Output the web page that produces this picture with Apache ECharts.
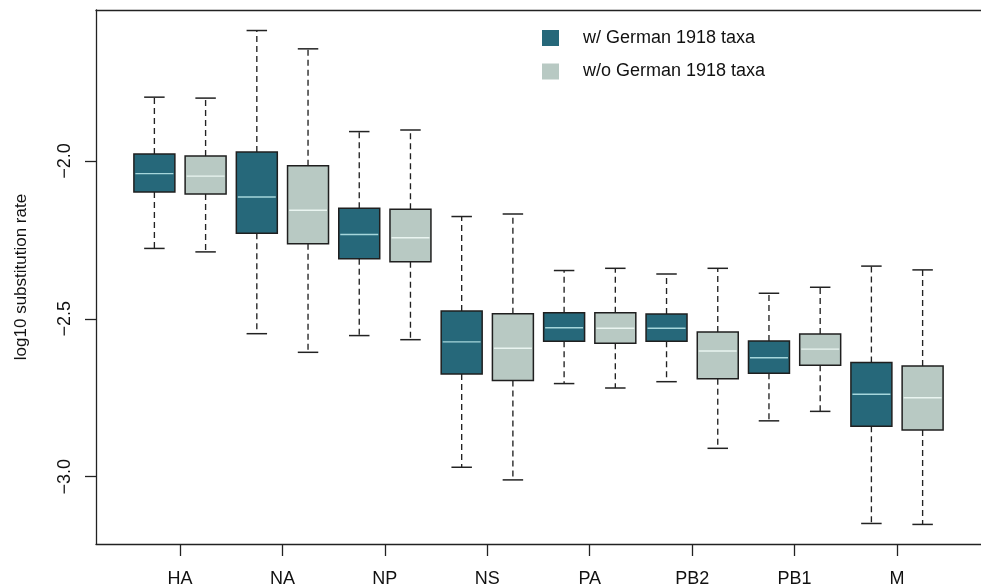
<!DOCTYPE html>
<html>
<head>
<meta charset="utf-8">
<script src="https://cdn.jsdelivr.net/npm/echarts@6/dist/echarts.min.js"></script>
<style>
html,body{margin:0;padding:0;background:#fff;}
#chart{width:981px;height:588px;}
</style>
</head>
<body>
<div id="chart"></div>
<script>
// Categories (gene segments)
const categories = ['HA', 'NA', 'NP', 'NS', 'PA', 'PB2', 'PB1', 'M'];
const seriesNames = ['w/ German 1918 taxa', 'w/o German 1918 taxa'];
// [min, q1, median, q3, max] per category, log10 substitution rate
const withGerman = [
  [-2.277, -2.098, -2.040, -1.978, -1.798],
  [-2.547, -2.229, -2.114, -1.972, -1.587],
  [-2.553, -2.310, -2.233, -2.150, -1.907],
  [-2.970, -2.675, -2.573, -2.475, -2.176],
  [-2.705, -2.571, -2.528, -2.481, -2.347],
  [-2.699, -2.571, -2.530, -2.485, -2.358],
  [-2.823, -2.672, -2.623, -2.570, -2.419],
  [-3.148, -2.840, -2.739, -2.638, -2.333]
];
const withoutGerman = [
  [-2.288, -2.105, -2.048, -1.984, -1.801],
  [-2.606, -2.262, -2.156, -2.015, -1.645],
  [-2.566, -2.319, -2.243, -2.153, -1.902],
  [-3.010, -2.695, -2.593, -2.484, -2.168],
  [-2.719, -2.577, -2.530, -2.481, -2.340],
  [-2.910, -2.690, -2.602, -2.542, -2.340],
  [-2.793, -2.647, -2.596, -2.548, -2.400],
  [-3.151, -2.852, -2.750, -2.649, -2.345]
];
const yTicks = [-3.0, -2.5, -2.0];

const FONT = "'Liberation Sans', Arial, Helvetica, sans-serif";
const DARK = '#26687a';
const LIGHT = '#b8c9c3';
const MED_DARK = '#a6d6db';
const MED_LIGHT = '#eaf5f1';

function toData(arr, g) {
  return arr.map((d, i) => [2 * i + 1 + g].concat(d));
}

function makeRender(fill, medColor) {
  return function (params, api) {
    const x = api.value(0);
    const mn = api.coord([x, api.value(1)]);
    const q1 = api.coord([x, api.value(2)]);
    const md = api.coord([x, api.value(3)]);
    const q3 = api.coord([x, api.value(4)]);
    const mx = api.coord([x, api.value(5)]);
    const bw = api.size([0.8, 0])[0];
    const cw = api.size([0.4, 0])[0];
    const cx = mn[0];
    const wStyle = { stroke: '#222', lineWidth: 1.35, lineDash: [6, 4], fill: null };
    const cStyle = { stroke: '#222', lineWidth: 1.5, fill: null };
    return {
      type: 'group',
      children: [
        { type: 'line', shape: { x1: cx, y1: q3[1], x2: cx, y2: mx[1] }, style: wStyle },
        { type: 'line', shape: { x1: cx, y1: q1[1], x2: cx, y2: mn[1] }, style: wStyle },
        { type: 'line', shape: { x1: cx - cw / 2, y1: mx[1], x2: cx + cw / 2, y2: mx[1] }, style: cStyle },
        { type: 'line', shape: { x1: cx - cw / 2, y1: mn[1], x2: cx + cw / 2, y2: mn[1] }, style: cStyle },
        { type: 'rect', shape: { x: cx - bw / 2, y: q3[1], width: bw, height: q1[1] - q3[1] },
          style: { fill: fill, stroke: '#1f1f1f', lineWidth: 1.5 } },
        { type: 'line', shape: { x1: cx - bw / 2 + 1.5, y1: md[1], x2: cx + bw / 2 - 1.5, y2: md[1] },
          style: { stroke: medColor, lineWidth: 1.4 } }
      ]
    };
  };
}

const chart = echarts.init(document.getElementById('chart'), null, { renderer: 'canvas' });
const xTickVals = categories.map((c, i) => 2 * i + 1.5);

chart.setOption({
  animation: false,
  backgroundColor: '#ffffff',
  textStyle: { fontFamily: FONT },
  grid: { left: 96, top: 10, width: 898, height: 534, containLabel: false },
  legend: {
    data: seriesNames,
    orient: 'vertical',
    left: 537,
    top: 24,
    icon: 'rect',
    itemWidth: 17,
    itemHeight: 16,
    itemGap: 15.5,
    textStyle: { fontSize: 18, color: '#111', fontFamily: FONT, padding: [0, 0, 0, 19], lineHeight: 18 }
  },
  xAxis: [
    {
      type: 'value', min: -0.14, max: 17.14, position: 'bottom',
      axisLine: { show: true, onZero: false, lineStyle: { color: '#222', width: 1.3 } },
      axisTick: { show: true, customValues: xTickVals, length: 12, lineStyle: { color: '#222', width: 1.3 } },
      axisLabel: {
        show: true, customValues: xTickVals, margin: 26, fontSize: 18, color: '#111', fontFamily: FONT,
        formatter: v => categories[Math.round((v - 1.5) / 2)]
      },
      splitLine: { show: false }
    },
    {
      type: 'value', min: -0.14, max: 17.14, position: 'top',
      axisLine: { show: true, onZero: false, lineStyle: { color: '#222', width: 1.3 } },
      axisTick: { show: false }, axisLabel: { show: false }, splitLine: { show: false }
    }
  ],
  yAxis: {
    type: 'value', min: -3.213, max: -1.522, position: 'left',
    name: 'log10 substitution rate', nameLocation: 'middle', nameGap: 66,
    nameTextStyle: { fontSize: 17, color: '#111', fontFamily: FONT },
    axisLine: { show: true, onZero: false, lineStyle: { color: '#222', width: 1.3 } },
    axisTick: { show: true, customValues: yTicks, length: 11, lineStyle: { color: '#222', width: 1.3 } },
    axisLabel: {
      show: true, customValues: yTicks, rotate: 90, margin: 22, fontSize: 18, color: '#111', fontFamily: FONT,
      formatter: v => v.toFixed(1).replace('-', '\u2212')
    },
    splitLine: { show: false }
  },
  series: [
    {
      name: seriesNames[0], type: 'custom', xAxisIndex: 0,
      itemStyle: { color: DARK },
      renderItem: makeRender(DARK, MED_DARK),
      encode: { x: 0, y: [1, 2, 3, 4, 5] },
      data: toData(withGerman, 0)
    },
    {
      name: seriesNames[1], type: 'custom', xAxisIndex: 0,
      itemStyle: { color: LIGHT },
      renderItem: makeRender(LIGHT, MED_LIGHT),
      encode: { x: 0, y: [1, 2, 3, 4, 5] },
      data: toData(withoutGerman, 1)
    }
  ]
});
</script>
</body>
</html>
